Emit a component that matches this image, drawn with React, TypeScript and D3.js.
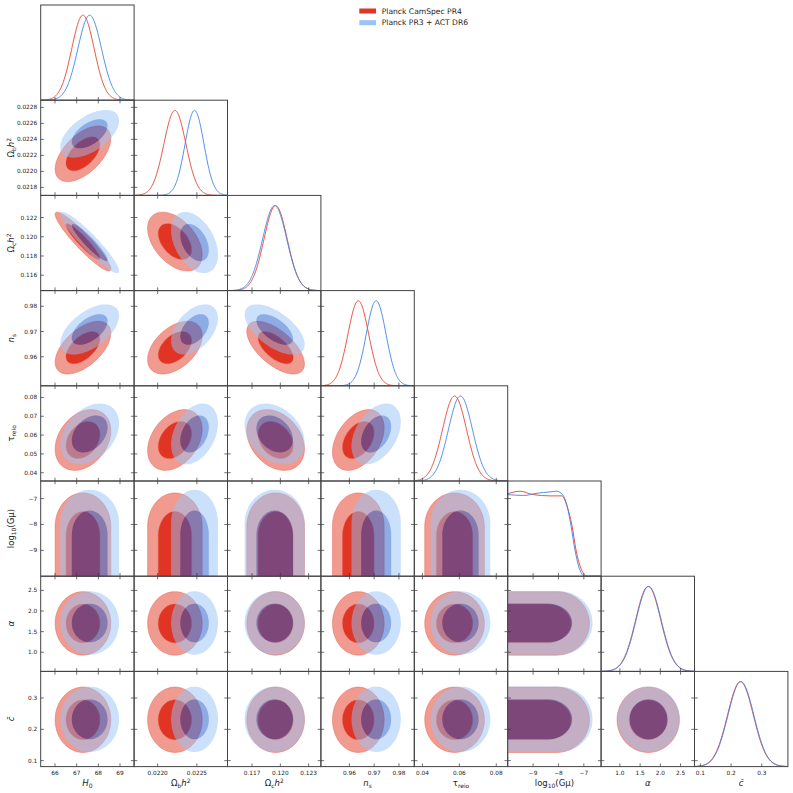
import * as d3 from 'd3';

type Part = { t: string; it?: boolean; sub?: boolean; sup?: boolean };

// axis labels of the 8 parameters
const paramLabels: Part[][] = [
  [{ t: 'H', it: true }, { t: '0', sub: true }],
  [{ t: 'Ω' }, { t: 'b', sub: true }, { t: 'h', it: true }, { t: '2', sup: true }],
  [{ t: 'Ω' }, { t: 'c', sub: true }, { t: 'h', it: true }, { t: '2', sup: true }],
  [{ t: 'n', it: true }, { t: 's', sub: true }],
  [{ t: 'τ' }, { t: 'reio', sub: true }],
  [{ t: 'log' }, { t: '10', sub: true }, { t: '(Gμ)' }],
  [{ t: 'α', it: true }],
  [{ t: 'c̄', it: true }],
];

// plotted range of each parameter (same for x and y)
const ranges: [number, number][] = [
  [65.34, 69.65],
  [0.0217, 0.02289],
  [0.1144, 0.1243],
  [0.9485, 0.9862],
  [0.0356, 0.0862],
  [-10, -6.32],
  [0.535, 2.845],
  [0.081, 0.385],
];

const xTicks: number[][] = [
  [66, 67, 68, 69],
  [0.022, 0.0225],
  [0.117, 0.12, 0.123],
  [0.96, 0.97, 0.98],
  [0.04, 0.06, 0.08],
  [-9, -8, -7],
  [1, 1.5, 2, 2.5],
  [0.1, 0.2, 0.3],
];
const yTicks: number[][] = [
  [],
  [0.0218, 0.022, 0.0222, 0.0224, 0.0226, 0.0228],
  [0.116, 0.118, 0.12, 0.122],
  [0.96, 0.97, 0.98],
  [0.04, 0.05, 0.06, 0.07, 0.08],
  [-9, -8, -7],
  [1, 1.5, 2, 2.5],
  [0.1, 0.2, 0.3],
];
const tickFormats = ['d', '.4f', '.3f', '.2f', '.2f', 'd', '.1f', '.1f'];

const seriesNames = ['Planck CamSpec PR4', 'Planck PR3 + ACT DR6'];

// gaussian summaries (index 5 = log10(Gμ) handled apart)
const redMean = [67.29, 0.02222, 0.1195, 0.9636, 0.0574, 0, 1.7, 0.2305];
const redSigma = [0.517, 0.00014, 0.00123, 0.0042, 0.0065, 0, 0.31, 0.042];
const blueMean = [67.6, 0.02247, 0.1194, 0.9708, 0.0606, 0, 1.71, 0.232];
const blueSigma = [0.545, 0.00012, 0.00128, 0.004, 0.0065, 0, 0.31, 0.042];

// [row, col, rho red, rho blue]
const corrPairs: [number, number, number, number][] = [
  [1, 0, 0.55, 0.55],
  [2, 0, -0.93, -0.93],
  [3, 0, 0.55, 0.55],
  [4, 0, 0.3, 0.35],
  [2, 1, -0.45, -0.4],
  [3, 1, 0.45, 0.45],
  [4, 1, 0.35, 0.35],
  [3, 2, -0.62, -0.6],
  [4, 2, -0.3, -0.3],
  [4, 3, 0.4, 0.4],
];

// log10(Gμ): upper bounds of the 95% / 68% regions and the rounding of the cap
const gmuTopRed = [-6.78, -7.5];
const gmuTopBlue = [-6.66, -7.46];
const gmuCap = [1.3, 0.95];

// log10(Gμ) 1D marginals
const gmuRedX = [-10, -9.51, -9.0, -8.33, -7.87, -7.67, -7.47, -7.31, -7.09, -6.89, -6.32];
const gmuRedP = [0.97, 1.0, 0.96, 0.945, 0.945, 0.83, 0.6, 0.31, 0.075, 0, 0];
const gmuBlueX = [-10, -9.37, -8.84, -8.33, -8.07, -7.84, -7.67, -7.51, -7.35, -7.16, -6.96, -6.32];
const gmuBlueP = [0.96, 0.95, 0.976, 0.992, 1.0, 0.96, 0.84, 0.6, 0.31, 0.076, 0, 0];

const radii = [2.486, 1.515]; // 95%, 68%
const redFill = ['#f09a90', '#e03424'];
const blueFill = ['#98c2f6', '#1e5acd'];
const lineColors = ['#e6402e', '#3b82e8'];

const font = 'DejaVu Sans, sans-serif';

function rho(i: number, j: number, k: number) {
  const p = corrPairs.find((c) => c[0] === i && c[1] === j);
  return p ? p[2 + k] : 0;
}

function region(k: number, lev: number, i: number, j: number): [number, number][] {
  const mean = k === 0 ? redMean : blueMean;
  const sig = k === 0 ? redSigma : blueSigma;
  const r = radii[lev];
  const top = (k === 0 ? gmuTopRed : gmuTopBlue)[lev];
  const cap = gmuCap[lev];
  const m = 90;
  const pts: [number, number][] = [];
  if (i === 5) {
    const w = r * sig[j];
    pts.push([mean[j] - w, -11]);
    for (let s = 0; s <= m; s++) {
      const t = Math.PI - (Math.PI * s) / m;
      pts.push([mean[j] + w * Math.cos(t), top - cap + cap * Math.sin(t)]);
    }
    pts.push([mean[j] + w, -11]);
  } else if (j === 5) {
    const w = r * sig[i];
    pts.push([-11, mean[i] - w]);
    for (let s = 0; s <= m; s++) {
      const t = -Math.PI / 2 + (Math.PI * s) / m;
      pts.push([top - cap + cap * Math.cos(t), mean[i] + w * Math.sin(t)]);
    }
    pts.push([-11, mean[i] + w]);
  } else {
    const p = rho(i, j, k);
    for (let s = 0; s < m; s++) {
      const t = (2 * Math.PI * s) / m;
      const u = Math.cos(t);
      const v = Math.sin(t);
      pts.push([mean[j] + r * sig[j] * u, mean[i] + r * sig[i] * (p * u + Math.sqrt(1 - p * p) * v)]);
    }
  }
  return pts;
}

function Label({ parts, size }: { parts: Part[]; size: number }) {
  let shift = 0;
  return (
    <>
      {parts.map((p, idx) => {
        const target = p.sub ? size * 0.28 : p.sup ? -size * 0.38 : 0;
        const dy = target - shift;
        shift = target;
        return (
          <tspan
            key={idx}
            dy={dy}
            fontSize={p.sub || p.sup ? size * 0.7 : size}
            fontStyle={p.it ? 'italic' : 'normal'}
          >
            {p.t}
          </tspan>
        );
      })}
    </>
  );
}

export default function App() {
  const W = 793;
  const H = 793;
  const x0 = 40.7;
  const y0 = 5;
  const cw = 93.4;
  const ch = 95.2;
  const n = 8;
  const tl = 3.2;

  const xs = ranges.map((r, j) => d3.scaleLinear().domain(r).range([x0 + j * cw, x0 + (j + 1) * cw]));
  const ys = ranges.map((r, i) => d3.scaleLinear().domain(r).range([y0 + (i + 1) * ch, y0 + i * ch]));

  const panels: [number, number][] = [];
  for (let i = 0; i < n; i++) for (let j = 0; j <= i; j++) panels.push([i, j]);

  const diagCurve = (j: number, k: number) => {
    const ys1 = d3.scaleLinear().domain([0, 1.12]).range([y0 + (j + 1) * ch, y0 + j * ch]);
    const line = d3
      .line<[number, number]>()
      .x((d) => xs[j](d[0]))
      .y((d) => ys1(d[1]));
    if (j === 5) {
      const gx = k === 0 ? gmuRedX : gmuBlueX;
      const gp = k === 0 ? gmuRedP : gmuBlueP;
      return line.curve(d3.curveMonotoneX)(gx.map((v, q) => [v, gp[q]]));
    }
    const mu = (k === 0 ? redMean : blueMean)[j];
    const sd = (k === 0 ? redSigma : blueSigma)[j];
    const [a, b] = ranges[j];
    const pts: [number, number][] = d3.range(0, 201).map((q) => {
      const v = a + ((b - a) * q) / 200;
      return [v, Math.exp(-0.5 * ((v - mu) / sd) ** 2)];
    });
    return line(pts);
  };

  return (
    <svg width={W} height={H} style={{ position: 'absolute', left: 0, top: 0, background: '#fff' }} fontFamily={font}>
      <defs>
        {panels.map(([i, j]) => (
          <clipPath id={`c${i}${j}`} key={`c${i}${j}`}>
            <rect x={x0 + j * cw} y={y0 + i * ch} width={cw} height={ch} />
          </clipPath>
        ))}
      </defs>

      {panels.map(([i, j]) => {
        const px = x0 + j * cw;
        const py = y0 + i * ch;
        const bottom = py + ch;
        const right = px + cw;
        const path = d3
          .line<[number, number]>()
          .x((d) => xs[j](d[0]))
          .y((d) => ys[i](d[1]))
          .curve(d3.curveLinearClosed);
        return (
          <g key={`p${i}${j}`}>
            <g clipPath={`url(#c${i}${j})`}>
              {i === j ? (
                <>
                  <path d={diagCurve(j, 0) ?? ''} fill="none" stroke={lineColors[0]} strokeWidth={0.9} />
                  <path d={diagCurve(j, 1) ?? ''} fill="none" stroke={lineColors[1]} strokeWidth={0.9} />
                </>
              ) : (
                <>
                  {[0, 1].map((lev) => (
                    <path
                      key={`r${lev}`}
                      d={path(region(0, lev, i, j)) ?? ''}
                      fill={redFill[lev]}
                      stroke="#e65a48"
                      strokeWidth={0.6}
                      strokeOpacity={0.7}
                    />
                  ))}
                  <g opacity={0.5}>
                    {[0, 1].map((lev) => (
                      <path key={`b${lev}`} d={path(region(1, lev, i, j)) ?? ''} fill={blueFill[lev]} />
                    ))}
                  </g>
                </>
              )}
            </g>
            {/* ticks, pointing inward */}
            <g stroke="#333" strokeWidth={0.7}>
              {xTicks[j].map((t) => (
                <line key={`xb${t}`} x1={xs[j](t)} x2={xs[j](t)} y1={bottom} y2={bottom - tl} />
              ))}
              {i !== j &&
                xTicks[j].map((t) => <line key={`xt${t}`} x1={xs[j](t)} x2={xs[j](t)} y1={py} y2={py + tl} />)}
              {yTicks[i].map((t) => (
                <line key={`yl${t}`} x1={px} x2={px + tl} y1={ys[i](t)} y2={ys[i](t)} />
              ))}
              {i !== j &&
                yTicks[i].map((t) => <line key={`yr${t}`} x1={right} x2={right - tl} y1={ys[i](t)} y2={ys[i](t)} />)}
            </g>
            <rect x={px} y={py} width={cw} height={ch} fill="none" stroke="#444" strokeWidth={1} />
          </g>
        );
      })}

      {/* bottom tick labels and axis labels */}
      {d3.range(n).map((j) => (
        <g key={`bx${j}`}>
          {xTicks[j].map((t) => (
            <text key={t} x={xs[j](t)} y={y0 + n * ch + 8.2} fontSize={5.8} textAnchor="middle" fill="#222">
              {d3.format(tickFormats[j])(t)}
            </text>
          ))}
          <text x={x0 + (j + 0.5) * cw} y={786} fontSize={8.5} textAnchor="middle" fill="#222">
            <Label parts={paramLabels[j]} size={8.5} />
          </text>
        </g>
      ))}

      {/* left tick labels and axis labels */}
      {d3.range(1, n).map((i) => (
        <g key={`ly${i}`}>
          {yTicks[i].map((t) => (
            <text
              key={t}
              x={x0 - 3.5}
              y={ys[i](t)}
              dy="0.35em"
              fontSize={5.8}
              textAnchor="end"
              fill="#222"
            >
              {d3.format(tickFormats[i])(t)}
            </text>
          ))}
          <text
            transform={`translate(14,${y0 + (i + 0.5) * ch}) rotate(-90)`}
            fontSize={8.5}
            textAnchor="middle"
            fill="#222"
          >
            <Label parts={paramLabels[i]} size={8.5} />
          </text>
        </g>
      ))}

      {/* legend */}
      {seriesNames.map((s, k) => (
        <g key={s}>
          <rect x={359.3} y={8.5 + k * 11.7} width={16.7} height={5} fill={k === 0 ? '#e03424' : '#9cc3f6'} />
          <text x={381.7} y={11 + k * 11.7} dy="0.35em" fontSize={7.6} fill="#222">
            {s}
          </text>
        </g>
      ))}
    </svg>
  );
}
